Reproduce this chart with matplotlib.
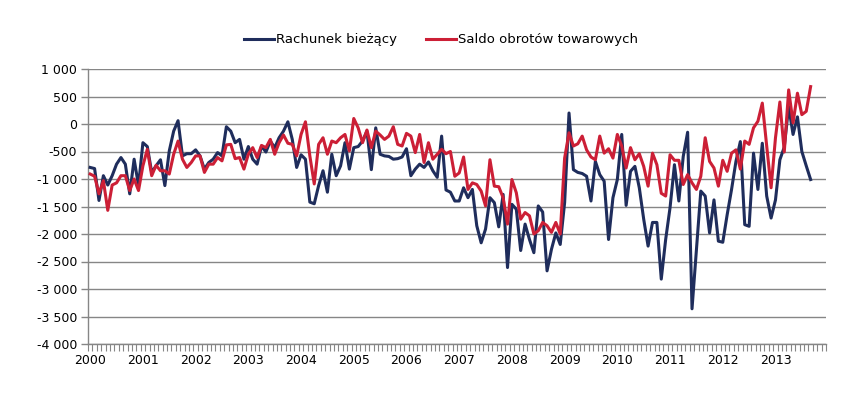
import matplotlib
matplotlib.use("Agg")
import matplotlib.pyplot as plt
from matplotlib.ticker import FixedLocator, FuncFormatter

# miesiące od stycznia 2000 do września 2013
years = [str(y) for y in range(2000, 2014)]

rachunek = [
    -790, -810, -1390, -940, -1110, -940, -730, -610, -730, -1270, -640, -1120,
    -340, -410, -880, -760, -650, -1120, -490, -130, 60, -580, -540, -540,
    -470, -580, -820, -700, -640, -520, -580, -50, -130, -340, -280, -640,
    -410, -640, -730, -400, -510, -310, -430, -250, -130, 40, -280, -790,
    -560, -640, -1420, -1450, -1120, -850, -1240, -550, -940, -760, -340, -820,
    -430, -410, -310, -130, -830, -70, -550, -580, -590, -640, -630, -600,
    -450, -940, -820, -730, -790, -690, -850, -970, -220, -1200, -1240, -1400,
    -1400, -1160, -1340, -1190, -1850, -2160, -1910, -1340, -1430, -1870, -1280, -2610,
    -1460, -1550, -2300, -1820, -2100, -2340, -1490, -1600, -2670, -2280, -1980, -2190,
    -1430, 200, -830, -880, -900, -950, -1400, -680, -920, -1040, -2100, -1340,
    -1010, -190, -1480, -860, -770, -1160, -1730, -2220, -1790, -1790, -2820, -2100,
    -1520, -740, -1400, -590, -150, -3360, -2300, -1220, -1310, -1980, -1380, -2130,
    -2150, -1650, -1190, -680, -320, -1830, -1860, -530, -1190, -350, -1310, -1710,
    -1380, -650, -420, 320, -190, 130, -500, -760, -1010,
]

saldo = [
    -910, -950, -1270, -1030, -1570, -1110, -1070, -940, -940, -1210, -1000, -1210,
    -760, -460, -940, -750, -850, -850, -910, -550, -310, -640, -790, -700,
    -580, -580, -880, -730, -730, -610, -670, -380, -370, -630, -610, -820,
    -550, -430, -610, -390, -430, -280, -550, -340, -200, -350, -370, -580,
    -190, 40, -580, -1090, -370, -250, -550, -310, -340, -250, -190, -490,
    100, -70, -340, -110, -430, -130, -200, -280, -220, -50, -370, -400,
    -170, -220, -520, -190, -700, -340, -640, -550, -460, -540, -500, -950,
    -890, -600, -1190, -1070, -1100, -1220, -1490, -650, -1130, -1140, -1340, -1820,
    -1010, -1250, -1730, -1610, -1670, -2000, -1940, -1790, -1850, -1970, -1790, -2000,
    -620, -160, -400, -360, -220, -470, -600, -650, -220, -530, -450, -620,
    -190, -400, -800, -430, -650, -540, -770, -1130, -530, -740, -1260, -1310,
    -560, -660, -660, -1100, -920, -1070, -1190, -950, -250, -680, -800, -1130,
    -660, -860, -530, -470, -820, -310, -370, -70, 50, 380, -400, -1160,
    -250, 400, -510, 620, 20, 560, 170, 230, 680,
]

BLUE = "#1f2d5c"
RED = "#cc1f36"
GRAY = "#868686"

plt.rcParams["font.family"] = ["DejaVu Sans"]

fig = plt.figure(figsize=(8.52, 3.99), dpi=100)
ax = fig.add_axes([88 / 852, 1 - 344 / 399, (826 - 88) / 852, (344 - 69) / 399])

x = list(range(len(rachunek)))
ax.plot(x, rachunek, color=BLUE, lw=2.2, label="Rachunek bieżący", zorder=3)
ax.plot(x, saldo, color=RED, lw=2.2, label="Saldo obrotów towarowych", zorder=4)

n_months = 12 * len(years)
ax.set_xlim(-0.5, n_months - 0.5)
ax.set_ylim(-4000, 1000)

# oś y
ax.set_yticks(range(-4000, 1001, 500))
ax.yaxis.set_major_formatter(FuncFormatter(lambda v, p: f"{int(v):,}".replace(",", " ")))
ax.yaxis.grid(True, color=GRAY, lw=1.0)
ax.set_axisbelow(True)
ax.tick_params(axis="y", length=5, width=1, color=GRAY, pad=3, labelsize=9)

# oś x: etykiety lat, kreski co miesiąc
ax.set_xticks([12 * k for k in range(len(years))])
ax.set_xticklabels(years)
ax.xaxis.set_minor_locator(FixedLocator([k - 0.5 for k in range(n_months + 1)]))
ax.tick_params(axis="x", which="major", length=0, pad=7, labelsize=9)
ax.tick_params(axis="x", which="minor", length=5, width=0.8, color=GRAY)

for s in ["top", "right"]:
    ax.spines[s].set_visible(False)
for s in ["left", "bottom"]:
    ax.spines[s].set_color(GRAY)
    ax.spines[s].set_linewidth(1.0)

fig.legend(loc="center", bbox_to_anchor=(441 / 852, 1 - 40 / 399), ncol=2,
           frameon=False, fontsize=9.5, handlelength=2.3, handletextpad=0.15,
           columnspacing=2.2)

fig.savefig("out.png", dpi=100)
